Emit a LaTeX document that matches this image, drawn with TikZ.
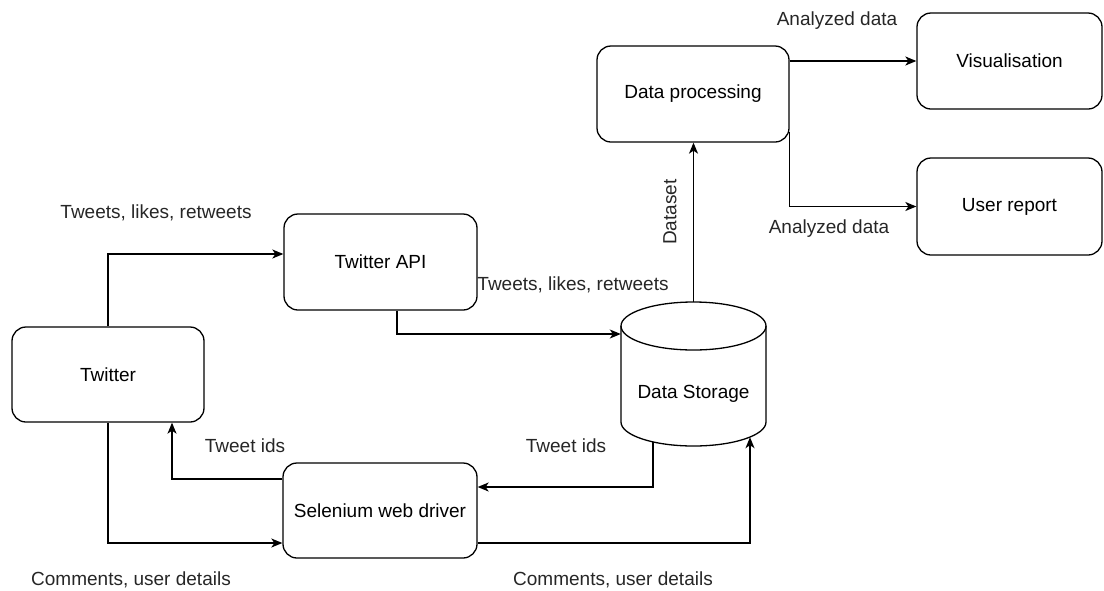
\documentclass[tikz,border=0pt]{standalone}
\usepackage{fontspec}
\setmainfont{Liberation Sans}
\usetikzlibrary{arrows.meta,calc}
\tikzset{
  box/.style={draw, rounded corners=14pt, line width=1.3pt, align=center, inner sep=0pt},
  conn/.style={line width=1.3pt, -{Stealth[length=11pt,width=9pt,inset=3pt]}},
  lbl/.style={inner sep=0pt, text=black!85},
  txt/.style={font=\fontsize{19}{23}\selectfont}
}
\begin{document}
\begin{tikzpicture}[x=1pt,y=-1pt,txt]
\useasboundingbox (0,0) rectangle (1104,590);
% nodes
\node[box, minimum width=192pt, minimum height=95pt] (tw) at (108,374.5) {Twitter};
\node[box, minimum width=193pt, minimum height=96pt] (api) at (380.5,262) {Twitter API};
\node[box, minimum width=194pt, minimum height=95pt] (sel) at (380,510.5) {Selenium web driver};
\node[box, minimum width=192pt, minimum height=96pt] (dp) at (693,94) {Data processing};
\node[box, minimum width=185pt, minimum height=96pt] (vis) at (1009.5,61) {Visualisation};
\node[box, minimum width=185pt, minimum height=97pt] (ur) at (1009.5,206.5) {User report};
% cylinder
\draw[line width=1.3pt, fill=white] (621,326) -- (621,422) arc[start angle=180, end angle=0, x radius=72.5, y radius=24] -- (766,326);
\draw[line width=1.3pt] (693.5,326) ellipse [x radius=72.5, y radius=24];
\node[minimum width=145pt, minimum height=144pt, inner sep=0pt] (ds) at (693.5,374) {};
\node at (693.5,394) {Data Storage};
% connectors
\draw[conn] (tw.north) |- ([yshift=8pt]api.west);
\draw[conn] ([xshift=16.5pt]api.south) |- ([yshift=40pt]ds.west);
\draw[conn] (ds.north) -- (ds.north |- dp.south);
\draw[conn] (dp.east |- vis.west) -- (vis.west);
\draw[conn] ([yshift=-38pt]dp.east) |- (ur.west);
\draw[conn] (tw.south) |- ([yshift=-32.5pt]sel.west);
\draw[conn] ([yshift=31.5pt]sel.west) -| ([xshift=64pt]tw.south);
\draw[conn] ([xshift=-40.5pt,yshift=4pt]ds.south) |- ([yshift=23.5pt]sel.east);
\draw[conn] ([yshift=-32.5pt]sel.east) -| ([xshift=56.5pt,yshift=9pt]ds.south);
% labels
\node[lbl] (l1) at (156,213) {Tweets, likes, retweets};
\node[lbl] (l2) at (573,285) {Tweets, likes, retweets};
\node[lbl, rotate=90] (l3) at (670,212) {Dataset};
\node[lbl] (l4) at (837,21) {Analyzed data};
\node[lbl] (l5) at (829,229) {Analyzed data};
\node[lbl] (l6) at (245,446) {Tweet ids};
\node[lbl] (l7) at (566,446) {Tweet ids};
\node[lbl] (l8) at (131,580) {Comments, user details};
\node[lbl] (l9) at (613,580) {Comments, user details};
\end{tikzpicture}
\end{document}
